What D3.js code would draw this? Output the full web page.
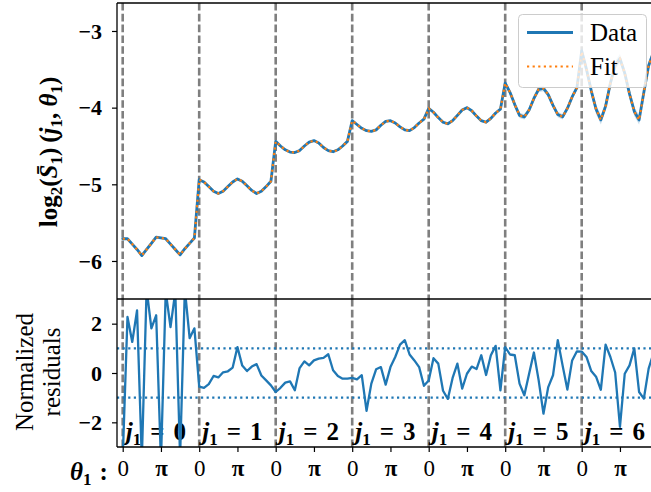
<!DOCTYPE html>
<html>
<head>
<meta charset="utf-8">
<script src="https://cdn.jsdelivr.net/npm/d3@7"></script>
<style>
  body { margin: 0; background: #fff; }
  text { font-family: "Liberation Serif", "DejaVu Serif", serif; }
</style>
</head>
<body>
<svg id="chart" width="651" height="492"></svg>
<script>
// Scale index j1 and the number of θ1 samples per scale (θ1 = 2πk/16)
const blocks = [0, 1, 2, 3, 4, 5, 6];
const nTheta = 16;

// log2 of the mean first-order coefficients, one row per j1
const logS1 = [
  [-5.71, -5.71, -5.78, -5.85, -5.93, -5.85, -5.77, -5.69, -5.70, -5.71, -5.78, -5.85, -5.92, -5.84, -5.77, -5.70],
  [-4.94, -4.97, -5.03, -5.09, -5.12, -5.09, -5.03, -4.97, -4.93, -4.96, -5.02, -5.08, -5.12, -5.09, -5.03, -4.96],
  [-4.44, -4.50, -4.55, -4.58, -4.585, -4.56, -4.50, -4.45, -4.43, -4.46, -4.52, -4.56, -4.575, -4.55, -4.50, -4.44],
  [-4.17, -4.22, -4.27, -4.30, -4.31, -4.29, -4.23, -4.18, -4.17, -4.20, -4.25, -4.29, -4.30, -4.26, -4.20, -4.15],
  [-4.01, -4.06, -4.13, -4.19, -4.21, -4.17, -4.10, -4.03, -4.00, -4.04, -4.11, -4.17, -4.19, -4.14, -4.07, -4.02],
  [-3.68, -3.80, -3.96, -4.10, -4.12, -4.03, -3.88, -3.76, -3.75, -3.83, -3.97, -4.09, -4.12, -4.01, -3.86, -3.74],
  [-3.26, -3.50, -3.78, -4.02, -4.16, -3.98, -3.68, -3.45, -3.36, -3.55, -3.82, -4.05, -4.16, -3.80, -3.45, -3.28]
];

// Model fit of the same quantity
const logS1Fit = [
  [-5.71, -5.71, -5.78, -5.85, -5.93, -5.85, -5.77, -5.69, -5.70, -5.71, -5.78, -5.85, -5.92, -5.84, -5.77, -5.70],
  [-4.94, -4.97, -5.03, -5.09, -5.12, -5.09, -5.03, -4.97, -4.93, -4.96, -5.02, -5.08, -5.12, -5.09, -5.03, -4.96],
  [-4.44, -4.50, -4.55, -4.58, -4.585, -4.56, -4.50, -4.45, -4.43, -4.46, -4.52, -4.56, -4.575, -4.55, -4.50, -4.44],
  [-4.17, -4.22, -4.27, -4.30, -4.31, -4.29, -4.23, -4.18, -4.17, -4.20, -4.25, -4.29, -4.30, -4.26, -4.20, -4.15],
  [-4.01, -4.06, -4.13, -4.19, -4.21, -4.17, -4.10, -4.03, -4.00, -4.04, -4.11, -4.17, -4.19, -4.14, -4.07, -4.02],
  [-3.68, -3.80, -3.96, -4.10, -4.12, -4.03, -3.88, -3.76, -3.75, -3.83, -3.97, -4.09, -4.12, -4.01, -3.86, -3.74],
  [-3.27, -3.50, -3.78, -4.02, -4.16, -3.98, -3.68, -3.45, -3.36, -3.55, -3.82, -4.05, -4.16, -3.80, -3.45, -3.28]
];

// 1-sigma uncertainty of the data, per j1
const logS1Err = [0.003, 0.005, 0.008, 0.012, 0.02, 0.035, 0.06];

// (data - fit) / sigma
const residuals = [
  [-3.5, 2.27, 1.26, 2.54, -3.5, 3.4, 1.81, 2.34, -3.6, 3.3, 1.86, 3.3, -3.4, 3.4, 1.41, 1.81],
  [-0.55, -0.6, -0.45, -0.12, -0.18, 0.03, 0.07, 0.22, 1.05, 0.3, 0.08, 0.26, 0.36, -0.1, -0.3, -0.5],
  [-0.77, -0.6, -0.39, -0.34, -0.70, 0.2, 0.47, 0.31, 0.51, 0.58, 0.61, 0.76, 0.11, -0.12, -0.23, -0.23],
  [-0.2, -0.26, -0.09, -1.53, -0.43, 0.15, 0.24, -0.47, 0.24, 0.65, 1.15, 1.33, 0.75, 0.51, 0.24, -0.52],
  [-0.3, 0.6, 0.38, -0.72, -1.05, -0.2, 0.38, -0.63, -0.03, 0.26, 0.16, 0.72, -0.08, 0.72, 1.1, -0.7],
  [1.05, 0.75, 0.72, -0.43, -0.9, -0.03, 0.83, -0.3, -1.65, -0.57, -0.09, 1.33, 0.31, -0.67, 0.51, 0.88],
  [0.87, 0.65, 0.08, -0.15, -0.68, 1.15, 0.65, 0.02, -2.18, -0.03, 0.31, 1.0, -0.77, -1.04, 0.18, 0.8]
];

const yTicksTop = [-3, -4, -5, -6];
const yTicksRes = [2, 0, -2];
const residualBand = [-1, 1];
const thetaTickLabels = ["0", "π"];
const legendLabels = ["Data", "Fit"];

const BLUE = "#1f77b4", ORANGE = "#ff7f0e", GREY = "#7f7f7f";

const svg = d3.select("#chart");
svg.append("rect").attr("width", 651).attr("height", 492).attr("fill", "#fff");

// Panel geometry
const left = 117, right = 660;
const topY0 = 3, topY1 = 299, resY0 = 299, resY1 = 447;

// Horizontal position: j1 + θ1/(2π)
const x = d3.scaleLinear().domain([-0.0745, 7.0235]).range([left, right]);
const yTop = d3.scaleLinear().domain([-6.496, -2.635]).range([topY1, topY0]);
const yRes = d3.scaleLinear().domain([-3, 3]).range([resY1, resY0]);

const flatten = (rows, err) => rows.flatMap((row, j) =>
  row.map((v, k) => ({ x: j + k / nTheta, v, e: err ? err[j] : 0 })));

const dataPts = flatten(logS1, logS1Err);
const fitPts = flatten(logS1Fit);
const resPts = flatten(residuals);

const defs = svg.append("defs");
defs.append("clipPath").attr("id", "clipTop").append("rect")
  .attr("x", left).attr("y", topY0).attr("width", right - left).attr("height", topY1 - topY0);
defs.append("clipPath").attr("id", "clipRes").append("rect")
  .attr("x", left).attr("y", resY0).attr("width", right - left).attr("height", resY1 - resY0);

const SEP_W = 2.6, SEP_DASH = "7.6,3.2";

// ---- Top panel ----
const gTop = svg.append("g").attr("clip-path", "url(#clipTop)");
gTop.selectAll("line.sep").data(blocks).join("line").attr("class", "sep")
  .attr("x1", d => x(d)).attr("x2", d => x(d))
  .attr("y1", topY0).attr("y2", topY1)
  .attr("stroke", GREY).attr("stroke-width", SEP_W).attr("stroke-dasharray", SEP_DASH);

gTop.append("path").datum(dataPts)
  .attr("d", d3.area().x(d => x(d.x)).y0(d => yTop(d.v - d.e)).y1(d => yTop(d.v + d.e)))
  .attr("fill", BLUE).attr("fill-opacity", 0.25);

const lineTop = d3.line().x(d => x(d.x)).y(d => yTop(d.v));
gTop.append("path").datum(dataPts).attr("d", lineTop)
  .attr("fill", "none").attr("stroke", BLUE).attr("stroke-width", 2.8)
  .attr("stroke-linejoin", "round").attr("stroke-linecap", "round");
gTop.append("path").datum(fitPts).attr("d", lineTop)
  .attr("fill", "none").attr("stroke", ORANGE).attr("stroke-width", 2.2)
  .attr("stroke-dasharray", "2.2,3.4");

// ---- Residual panel ----
const gRes = svg.append("g").attr("clip-path", "url(#clipRes)");
gRes.selectAll("line.sep").data(blocks).join("line").attr("class", "sep")
  .attr("x1", d => x(d)).attr("x2", d => x(d))
  .attr("y1", resY0).attr("y2", resY1)
  .attr("stroke", GREY).attr("stroke-width", SEP_W).attr("stroke-dasharray", SEP_DASH);

gRes.selectAll("line.band").data(residualBand).join("line").attr("class", "band")
  .attr("x1", left).attr("x2", right)
  .attr("y1", d => yRes(d)).attr("y2", d => yRes(d))
  .attr("stroke", BLUE).attr("stroke-width", 2.2).attr("stroke-dasharray", "2.2,3.4");

// Scale labels j1 = n along the bottom of each block
const jLab = gRes.selectAll("text.jlab").data(blocks).join("text").attr("class", "jlab")
  .attr("x", d => x(d) + 3).attr("y", 440)
  .attr("font-size", 25).attr("font-weight", "bold").attr("fill", "#000");
jLab.append("tspan").attr("font-style", "italic").text("j");
jLab.append("tspan").attr("font-size", 17).attr("dy", 5).text("1");
jLab.append("tspan").attr("dy", -5).attr("dx", 9).text("=");
jLab.append("tspan").attr("dx", 9).text(d => d);

gRes.append("path").datum(resPts)
  .attr("d", d3.line().x(d => x(d.x)).y(d => yRes(d.v)))
  .attr("fill", "none").attr("stroke", BLUE).attr("stroke-width", 2.3)
  .attr("stroke-linejoin", "round");

// ---- Spines ----
const spine = (x1, y1, x2, y2) => svg.append("line")
  .attr("x1", x1).attr("y1", y1).attr("x2", x2).attr("y2", y2)
  .attr("stroke", "#000").attr("stroke-width", 1.3);
spine(left, topY0, 651, topY0);
spine(left, topY0, left, resY1);
spine(left, topY1, 651, topY1);
spine(left, resY1, 651, resY1);

// ---- Axes ----
const styleAxis = g => {
  g.select(".domain").remove();
  g.selectAll(".tick line").attr("stroke", "#000").attr("stroke-width", 1.2);
  g.selectAll(".tick text").attr("fill", "#000")
    .style("font-family", '"Liberation Serif", serif');
};

svg.append("g").attr("transform", `translate(${left},0)`)
  .call(d3.axisLeft(yTop).tickValues(yTicksTop).tickFormat(d3.format("d")).tickSize(5).tickPadding(10))
  .call(styleAxis)
  .call(g => g.selectAll(".tick text").attr("font-size", 22).attr("font-weight", "bold"));

svg.append("g").attr("transform", `translate(${left},0)`)
  .call(d3.axisLeft(yRes).tickValues(yTicksRes).tickFormat(d3.format("d")).tickSize(5).tickPadding(10))
  .call(styleAxis)
  .call(g => g.selectAll(".tick text").attr("font-size", 22).attr("font-weight", "bold"));

const thetaTicks = blocks.flatMap(j => [j, j + 0.5]);
svg.append("g").attr("transform", `translate(0,${resY1})`)
  .call(d3.axisBottom(x).tickValues(thetaTicks).tickSize(5).tickPadding(8)
    .tickFormat(d => Number.isInteger(d) ? thetaTickLabels[0] : thetaTickLabels[1]))
  .call(styleAxis)
  .call(g => g.selectAll(".tick text").attr("font-size", 23)
    .attr("font-weight", d => Number.isInteger(d) ? "normal" : "bold"));

// θ1 : row label
const thLab = svg.append("text").attr("x", 70).attr("y", 480)
  .attr("font-size", 25).attr("font-weight", "bold");
thLab.append("tspan").attr("font-style", "italic").text("θ");
thLab.append("tspan").attr("font-size", 17).attr("dy", 5).text("1");
thLab.append("tspan").attr("dy", -5).attr("dx", 8).text(":");

// ---- Axis titles ----
const yl = svg.append("text").attr("transform", "translate(57,152) rotate(-90)")
  .attr("text-anchor", "middle").attr("font-size", 25).attr("font-weight", "bold");
yl.append("tspan").text("log");
yl.append("tspan").attr("font-size", 17).attr("dy", 5).text("2");
yl.append("tspan").attr("dy", -5).text("(");
yl.append("tspan").attr("font-style", "italic").text("S\u0304");
yl.append("tspan").attr("font-size", 17).attr("dy", 5).text("1");
yl.append("tspan").attr("dy", -5).text(")\u2009(");
yl.append("tspan").attr("font-style", "italic").text("j");
yl.append("tspan").attr("font-size", 17).attr("dy", 5).text("1");
yl.append("tspan").attr("dy", -5).text(", ");
yl.append("tspan").attr("font-style", "italic").text("θ");
yl.append("tspan").attr("font-size", 17).attr("dy", 5).text("1");
yl.append("tspan").attr("dy", -5).text(")");

const rl = svg.append("text").attr("transform", "translate(0,372) rotate(-90)")
  .attr("text-anchor", "middle").attr("font-size", 25);
rl.append("tspan").attr("x", 0).attr("y", 33).text("Normalized");
rl.append("tspan").attr("x", 0).attr("y", 60).text("residuals");

// ---- Legend ----
const lg = svg.append("g");
lg.append("rect").attr("x", 518.5).attr("y", 14.5).attr("width", 128).attr("height", 73)
  .attr("rx", 4).attr("fill", "#fff").attr("fill-opacity", 0.8)
  .attr("stroke", "#cccccc").attr("stroke-width", 1);
const legendRows = [
  { label: legendLabels[0], color: BLUE, dash: null, w: 2.8, y: 32.5 },
  { label: legendLabels[1], color: ORANGE, dash: "2.2,3.4", w: 2.2, y: 66.5 }
];
legendRows.forEach(r => {
  lg.append("line").attr("x1", 527).attr("x2", 573).attr("y1", r.y).attr("y2", r.y)
    .attr("stroke", r.color).attr("stroke-width", r.w).attr("stroke-dasharray", r.dash);
  lg.append("text").attr("x", 590).attr("y", r.y + 8.5).attr("font-size", 25).text(r.label);
});
</script>
</body>
</html>
